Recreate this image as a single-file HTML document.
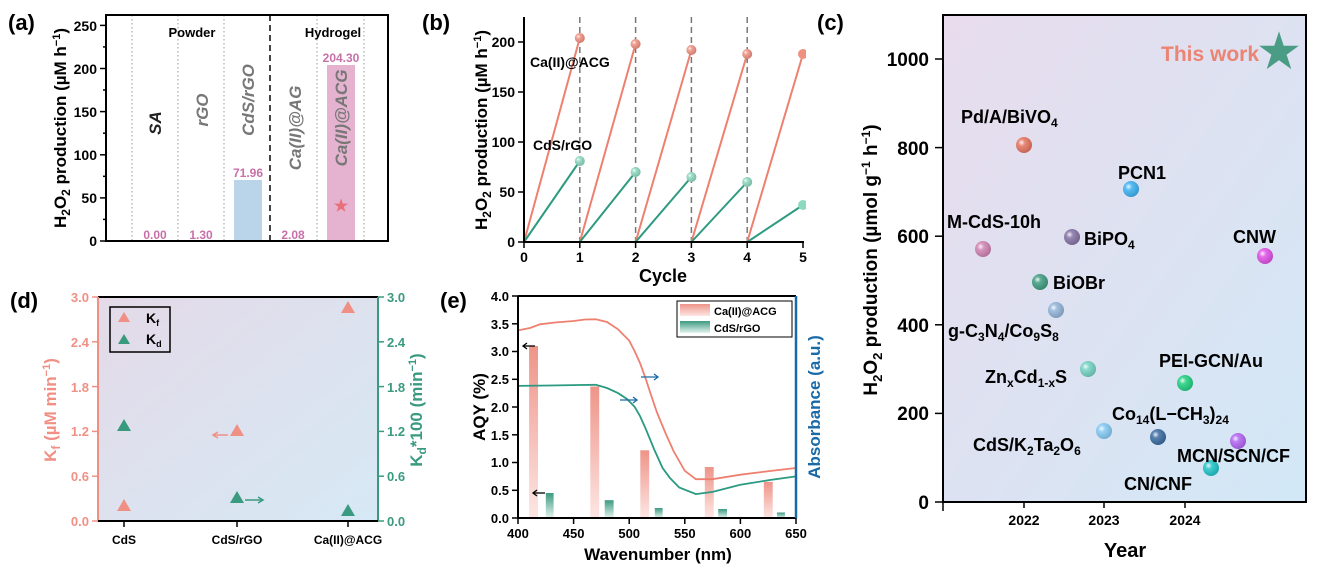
<!DOCTYPE html>
<html><head><meta charset="utf-8"><style>
html,body{margin:0;padding:0;background:#fff;}
svg{display:block;font-family:"Liberation Sans",Arial,sans-serif;font-weight:bold;}
</style></head><body>
<svg width="1320" height="575" viewBox="0 0 1320 575" xmlns="http://www.w3.org/2000/svg">
<defs>
<linearGradient id="bgc" x1="0" y1="0" x2="1" y2="1"><stop offset="0" stop-color="#e8dced"/><stop offset="1" stop-color="#d2e8f6"/></linearGradient>
<linearGradient id="bgd" x1="0" y1="0" x2="1" y2="1"><stop offset="0" stop-color="#e4dae8"/><stop offset="1" stop-color="#d6e9f5"/></linearGradient>
<linearGradient id="rb" x1="0" y1="0" x2="0" y2="1"><stop offset="0" stop-color="#ee9488"/><stop offset="1" stop-color="#fde6e4"/></linearGradient>
<linearGradient id="gb" x1="0" y1="0" x2="0" y2="1"><stop offset="0" stop-color="#3d9a80"/><stop offset="1" stop-color="#e4f4ef"/></linearGradient>
<radialGradient id="sh" cx="0.35" cy="0.35" r="0.7"><stop offset="0" stop-color="#fff" stop-opacity="0.9"/><stop offset="0.3" stop-color="#fff" stop-opacity="0.15"/><stop offset="1" stop-color="#000" stop-opacity="0.15"/></radialGradient>
</defs>

<!-- ===== Panel (a) ===== -->
<text x="8" y="30" font-size="22">(a)</text>
<g stroke="#999" stroke-width="1" stroke-dasharray="1.5,2.5">
<line x1="132" y1="15" x2="132" y2="241"/><line x1="178" y1="15" x2="178" y2="241"/><line x1="224" y1="15" x2="224" y2="241"/>
<line x1="317" y1="15" x2="317" y2="241"/><line x1="364" y1="15" x2="364" y2="241"/></g>
<line x1="270" y1="15" x2="270" y2="241" stroke="#444" stroke-width="2" stroke-dasharray="6,4"/>
<rect x="234" y="180" width="28" height="61" fill="#bad4ea"/>
<rect x="327" y="65" width="28" height="176" fill="#e5b3cf"/>
<rect x="106" y="15" width="282" height="226" fill="none" stroke="#000" stroke-width="2"/>
<g stroke="#000" stroke-width="1.5">
<line x1="100" y1="241" x2="106" y2="241"/><line x1="100" y1="197.9" x2="106" y2="197.9"/><line x1="100" y1="154.8" x2="106" y2="154.8"/><line x1="100" y1="111.6" x2="106" y2="111.6"/><line x1="100" y1="68.5" x2="106" y2="68.5"/><line x1="100" y1="25.4" x2="106" y2="25.4"/>
<line x1="103" y1="219.4" x2="106" y2="219.4"/><line x1="103" y1="176.3" x2="106" y2="176.3"/><line x1="103" y1="133.2" x2="106" y2="133.2"/><line x1="103" y1="90" x2="106" y2="90"/><line x1="103" y1="46.9" x2="106" y2="46.9"/></g>
<g font-size="14" text-anchor="end">
<text x="97" y="246">0</text><text x="97" y="203">50</text><text x="97" y="160">100</text><text x="97" y="117">150</text><text x="97" y="74">200</text><text x="97" y="31">250</text></g>
<text transform="translate(66,128) rotate(-90)" font-size="17" text-anchor="middle">H<tspan font-size="12" dy="4">2</tspan><tspan dy="-4">O</tspan><tspan font-size="12" dy="4">2</tspan><tspan dy="-4"> production (µM h</tspan><tspan font-size="11" dy="-6">−1</tspan><tspan dy="6">)</tspan></text>
<text x="192" y="37" font-size="13" text-anchor="middle">Powder</text>
<text x="333" y="37" font-size="13" text-anchor="middle">Hydrogel</text>
<g font-size="17" font-style="italic" fill="#777" text-anchor="middle">
<text transform="translate(161,123) rotate(-90)" fill="#222">SA</text>
<text transform="translate(208,110) rotate(-90)">rGO</text>
<text transform="translate(254,100) rotate(-90)">CdS/rGO</text>
<text transform="translate(301,128) rotate(-90)">Ca(II)@AG</text>
<text transform="translate(347,118) rotate(-90)">Ca(II)@ACG</text></g>
<g font-size="12" fill="#c870a8" text-anchor="middle">
<text x="155" y="239">0.00</text><text x="201" y="239">1.30</text><text x="248" y="177">71.96</text><text x="293" y="239">2.08</text><text x="341" y="62">204.30</text></g>
<text x="341" y="211" font-size="16" fill="#e8707a" text-anchor="middle">★</text>

<!-- ===== Panel (b) ===== -->
<text x="422" y="30" font-size="22">(b)</text>
<g stroke="#777" stroke-width="1.5" stroke-dasharray="6,4">
<line x1="579.8" y1="17" x2="579.8" y2="242"/><line x1="635.6" y1="17" x2="635.6" y2="242"/><line x1="691.4" y1="17" x2="691.4" y2="242"/><line x1="747.2" y1="17" x2="747.2" y2="242"/></g>
<g stroke="#ee8070" stroke-width="2">
<line x1="524" y1="242" x2="579.8" y2="38"/><line x1="579.8" y1="242" x2="635.6" y2="44"/><line x1="635.6" y1="242" x2="691.4" y2="50"/><line x1="691.4" y1="242" x2="747.2" y2="54"/><line x1="747.2" y1="242" x2="803" y2="54"/></g>
<g stroke="#2e9a80" stroke-width="2">
<line x1="524" y1="242" x2="579.8" y2="161"/><line x1="579.8" y1="242" x2="635.6" y2="172"/><line x1="635.6" y1="242" x2="691.4" y2="177"/><line x1="691.4" y1="242" x2="747.2" y2="182"/><line x1="747.2" y1="242" x2="803" y2="205"/></g>
<g fill="#f09080"><circle cx="579.8" cy="38" r="5"/><circle cx="635.6" cy="44" r="5"/><circle cx="691.4" cy="50" r="5"/><circle cx="747.2" cy="54" r="5"/><circle cx="803" cy="54" r="5"/></g>
<g fill="#8ed8c0"><circle cx="579.8" cy="161" r="5"/><circle cx="635.6" cy="172" r="5"/><circle cx="691.4" cy="177" r="5"/><circle cx="747.2" cy="182" r="5"/><circle cx="803" cy="205" r="5"/></g>
<g fill="url(#sh)"><circle cx="579.8" cy="38" r="5"/><circle cx="635.6" cy="44" r="5"/><circle cx="691.4" cy="50" r="5"/><circle cx="747.2" cy="54" r="5"/><circle cx="579.8" cy="161" r="5"/><circle cx="635.6" cy="172" r="5"/><circle cx="691.4" cy="177" r="5"/><circle cx="747.2" cy="182" r="5"/></g>
<rect x="806" y="0" width="14" height="260" fill="#fff"/>
<g stroke="#000" stroke-width="2"><line x1="524" y1="17" x2="524" y2="242"/><line x1="523" y1="242" x2="804" y2="242"/></g>
<g stroke="#000" stroke-width="1.5">
<line x1="518" y1="242" x2="524" y2="242"/><line x1="518" y1="192" x2="524" y2="192"/><line x1="518" y1="142" x2="524" y2="142"/><line x1="518" y1="92" x2="524" y2="92"/><line x1="518" y1="42" x2="524" y2="42"/>
<line x1="524" y1="242" x2="524" y2="248"/><line x1="579.8" y1="242" x2="579.8" y2="248"/><line x1="635.6" y1="242" x2="635.6" y2="248"/><line x1="691.4" y1="242" x2="691.4" y2="248"/><line x1="747.2" y1="242" x2="747.2" y2="248"/><line x1="803" y1="242" x2="803" y2="248"/></g>
<g font-size="14" text-anchor="end"><text x="515" y="247">0</text><text x="515" y="197">50</text><text x="515" y="147">100</text><text x="515" y="97">150</text><text x="515" y="47">200</text></g>
<g font-size="14" text-anchor="middle"><text x="524" y="262">0</text><text x="579.8" y="262">1</text><text x="635.6" y="262">2</text><text x="691.4" y="262">3</text><text x="747.2" y="262">4</text><text x="803" y="262">5</text></g>
<text x="663" y="282" font-size="18" text-anchor="middle">Cycle</text>
<text transform="translate(487,130) rotate(-90)" font-size="17" text-anchor="middle">H<tspan font-size="12" dy="4">2</tspan><tspan dy="-4">O</tspan><tspan font-size="12" dy="4">2</tspan><tspan dy="-4"> production (µM h</tspan><tspan font-size="11" dy="-6">−1</tspan><tspan dy="6">)</tspan></text>
<text x="530" y="67" font-size="14">Ca(II)@ACG</text>
<text x="533" y="150" font-size="14">CdS/rGO</text>

<!-- ===== Panel (c) ===== -->
<text x="817" y="30" font-size="22">(c)</text>
<rect x="943" y="15" width="363" height="487" fill="url(#bgc)" stroke="#000" stroke-width="2"/>
<g stroke="#000" stroke-width="1.5">
<line x1="935" y1="502" x2="943" y2="502"/><line x1="935" y1="413.4" x2="943" y2="413.4"/><line x1="935" y1="324.8" x2="943" y2="324.8"/><line x1="935" y1="236.2" x2="943" y2="236.2"/><line x1="935" y1="147.6" x2="943" y2="147.6"/><line x1="935" y1="59" x2="943" y2="59"/>
<line x1="943" y1="502" x2="943" y2="511"/><line x1="1024" y1="502" x2="1024" y2="508"/><line x1="1104" y1="502" x2="1104" y2="508"/><line x1="1185" y1="502" x2="1185" y2="508"/></g>
<g font-size="19" text-anchor="end"><text x="929" y="509">0</text><text x="929" y="420">200</text><text x="929" y="332">400</text><text x="929" y="243">600</text><text x="929" y="155">800</text><text x="929" y="66">1000</text></g>
<g font-size="14" text-anchor="middle"><text x="1024" y="525">2022</text><text x="1104" y="525">2023</text><text x="1185" y="525">2024</text></g>
<text x="1125" y="557" font-size="20" text-anchor="middle">Year</text>
<text transform="translate(877,260) rotate(-90)" font-size="19" text-anchor="middle">H<tspan font-size="13" dy="5">2</tspan><tspan dy="-5">O</tspan><tspan font-size="13" dy="5">2</tspan><tspan dy="-5"> production (µmol g</tspan><tspan font-size="12" dy="-7">−1</tspan><tspan dy="7"> h</tspan><tspan font-size="12" dy="-7">−1</tspan><tspan dy="7">)</tspan></text>
<g>
<circle cx="1024" cy="145" r="8" fill="#e57560"/><circle cx="1131" cy="189" r="8" fill="#3cb2f2"/><circle cx="983" cy="249" r="8" fill="#d083b2"/><circle cx="1072" cy="237" r="8" fill="#8573a5"/><circle cx="1265" cy="256" r="8" fill="#e050e6"/><circle cx="1040" cy="282" r="8" fill="#3f9c80"/><circle cx="1056" cy="310" r="8" fill="#92b4d8"/><circle cx="1088" cy="369" r="8" fill="#74d2c4"/><circle cx="1185" cy="383" r="8" fill="#20d080"/><circle cx="1104" cy="431" r="8" fill="#84caf4"/><circle cx="1158" cy="437" r="8" fill="#3b6ba2"/><circle cx="1238" cy="441" r="8" fill="#b265f2"/><circle cx="1211" cy="468" r="8" fill="#20c4c8"/>
</g>
<g fill="url(#sh)">
<circle cx="1024" cy="145" r="8"/><circle cx="1131" cy="189" r="8"/><circle cx="983" cy="249" r="8"/><circle cx="1072" cy="237" r="8"/><circle cx="1265" cy="256" r="8"/><circle cx="1040" cy="282" r="8"/><circle cx="1056" cy="310" r="8"/><circle cx="1088" cy="369" r="8"/><circle cx="1185" cy="383" r="8"/><circle cx="1104" cy="431" r="8"/><circle cx="1158" cy="437" r="8"/><circle cx="1238" cy="441" r="8"/><circle cx="1211" cy="468" r="8"/></g>
<g font-size="18">
<text x="961" y="123">Pd/A/BiVO<tspan font-size="12" dy="4">4</tspan></text>
<text x="1118" y="179">PCN1</text>
<text x="947" y="228">M-CdS-10h</text>
<text x="1084" y="245">BiPO<tspan font-size="12" dy="4">4</tspan></text>
<text x="1233" y="243">CNW</text>
<text x="1053" y="289">BiOBr</text>
<text x="948" y="337">g-C<tspan font-size="12" dy="4">3</tspan><tspan dy="-4">N</tspan><tspan font-size="12" dy="4">4</tspan><tspan dy="-4">/Co</tspan><tspan font-size="12" dy="4">9</tspan><tspan dy="-4">S</tspan><tspan font-size="12" dy="4">8</tspan></text>
<text x="985" y="383">Zn<tspan font-size="12" dy="4">x</tspan><tspan dy="-4">Cd</tspan><tspan font-size="12" dy="4">1-x</tspan><tspan dy="-4">S</tspan></text>
<text x="1159" y="367">PEI-GCN/Au</text>
<text x="1112" y="420">Co<tspan font-size="12" dy="4">14</tspan><tspan dy="-4">(L−CH</tspan><tspan font-size="12" dy="4">3</tspan><tspan dy="-4">)</tspan><tspan font-size="12" dy="4">24</tspan></text>
<text x="973" y="451">CdS/K<tspan font-size="12" dy="4">2</tspan><tspan dy="-4">Ta</tspan><tspan font-size="12" dy="4">2</tspan><tspan dy="-4">O</tspan><tspan font-size="12" dy="4">6</tspan></text>
<text x="1177" y="462">MCN/SCN/CF</text>
<text x="1124" y="490">CN/CNF</text>
</g>
<text x="1161" y="61" font-size="21" fill="#ec8473">This work</text>
<text x="1279" y="67" font-size="46" fill="#4a9c84" text-anchor="middle">★</text>

<!-- ===== Panel (d) ===== -->
<text x="10" y="308" font-size="22">(d)</text>
<rect x="98" y="297" width="280" height="224" fill="url(#bgd)"/>
<line x1="98" y1="297" x2="378" y2="297" stroke="#000" stroke-width="2"/>
<line x1="98" y1="297" x2="98" y2="521" stroke="#f09085" stroke-width="2"/>
<line x1="378" y1="297" x2="378" y2="521" stroke="#3a9a80" stroke-width="2"/>
<line x1="98" y1="521" x2="378" y2="521" stroke="#000" stroke-width="2"/>
<g stroke="#f09085" stroke-width="1.5">
<line x1="92" y1="521" x2="98" y2="521"/><line x1="92" y1="476.2" x2="98" y2="476.2"/><line x1="92" y1="431.4" x2="98" y2="431.4"/><line x1="92" y1="386.6" x2="98" y2="386.6"/><line x1="92" y1="341.8" x2="98" y2="341.8"/><line x1="92" y1="297" x2="98" y2="297"/></g>
<g stroke="#3a9a80" stroke-width="1.5">
<line x1="378" y1="521" x2="384" y2="521"/><line x1="378" y1="476.2" x2="384" y2="476.2"/><line x1="378" y1="431.4" x2="384" y2="431.4"/><line x1="378" y1="386.6" x2="384" y2="386.6"/><line x1="378" y1="341.8" x2="384" y2="341.8"/><line x1="378" y1="297" x2="384" y2="297"/></g>
<g stroke="#000" stroke-width="1.5"><line x1="124" y1="521" x2="124" y2="527"/><line x1="237" y1="521" x2="237" y2="527"/><line x1="348" y1="521" x2="348" y2="527"/></g>
<g font-size="13" fill="#f09085" text-anchor="end"><text x="89" y="526">0.0</text><text x="89" y="481">0.6</text><text x="89" y="436">1.2</text><text x="89" y="392">1.8</text><text x="89" y="347">2.4</text><text x="89" y="302">3.0</text></g>
<g font-size="13" fill="#3a9a80"><text x="387" y="526">0.0</text><text x="387" y="481">0.6</text><text x="387" y="436">1.2</text><text x="387" y="392">1.8</text><text x="387" y="347">2.4</text><text x="387" y="302">3.0</text></g>
<g font-size="12" text-anchor="middle"><text x="124" y="544">CdS</text><text x="237" y="544">CdS/rGO</text><text x="348" y="544">Ca(II)@ACG</text></g>
<text transform="translate(56,410) rotate(-90)" font-size="17" fill="#f09085" text-anchor="middle">K<tspan font-size="12" dy="4">f</tspan><tspan dy="-4"> (µM min</tspan><tspan font-size="11" dy="-6">−1</tspan><tspan dy="6">)</tspan></text>
<text transform="translate(422,410) rotate(-90)" font-size="17" fill="#3a9a80" text-anchor="middle">K<tspan font-size="12" dy="4">d</tspan><tspan dy="-4">*100 (min</tspan><tspan font-size="11" dy="-6">−1</tspan><tspan dy="6">)</tspan></text>
<g fill="#f09085"><path d="M124,499 l-7,12 h14z"/><path d="M237,424 l-7,12 h14z"/><path d="M348,301 l-7,12 h14z"/></g>
<g fill="#3a9a80"><path d="M124,419 l-7,12 h14z"/><path d="M237,491 l-7,12 h14z"/><path d="M348,504 l-7,12 h14z"/></g>
<g stroke="#f09085" stroke-width="1.5" fill="none"><line x1="228" y1="435" x2="214" y2="435"/><path d="M218,432 l-5,3 l5,3"/></g>
<g stroke="#3a9a80" stroke-width="1.5" fill="none"><line x1="245" y1="500" x2="262" y2="500"/><path d="M258,497 l5,3 l-5,3"/></g>
<rect x="110" y="307" width="60" height="45" fill="none" stroke="#000" stroke-width="1.5"/>
<path d="M124,312 l-6,10 h12z" fill="#f09085"/><path d="M124,334 l-6,10 h12z" fill="#3a9a80"/>
<text x="146" y="323" font-size="14">K<tspan font-size="9" dy="3">f</tspan></text>
<text x="146" y="344" font-size="14">K<tspan font-size="9" dy="3">d</tspan></text>

<!-- ===== Panel (e) ===== -->
<text x="440" y="308" font-size="22">(e)</text>
<g fill="url(#rb)">
<rect x="529.1" y="346" width="8.9" height="172"/><rect x="590.3" y="386.5" width="8.9" height="131.5"/><rect x="640.3" y="450.3" width="8.9" height="67.7"/><rect x="704.8" y="467" width="8.9" height="51"/><rect x="763.8" y="481.9" width="8.9" height="36.1"/></g>
<g fill="url(#gb)">
<rect x="545.8" y="493" width="7.8" height="25"/><rect x="604.7" y="500.2" width="8.9" height="17.8"/><rect x="654.8" y="508" width="7.8" height="10"/><rect x="718.2" y="509" width="8.8" height="9"/><rect x="777" y="512.5" width="7.9" height="5.5"/></g>
<polyline fill="none" stroke="#ee8070" stroke-width="1.8" points="518,330.4 530,328 540,324.3 555,322.5 573.6,321 585,319.5 595.8,319.3 607,322 618,329.3 629.2,340.6 634.8,351.5 640,363 645.9,379.3 651,395 657,412.5 665,432 673.7,451.4 684.8,470.8 695.9,479.2 712.6,479.2 740.4,474.7 770,471 796,468"/>
<polyline fill="none" stroke="#2a9a80" stroke-width="1.8" points="518,385.9 550,385.5 580,385 595.8,384.8 607,388 618,393.1 627,399 634.8,407 640,416 645.9,429.2 654,449 662.6,468 670,478 679.2,487.5 695.9,494.1 712.6,491.9 740.4,484.7 770,480 796,476.4"/>
<g stroke="#000" stroke-width="1.3" fill="none"><line x1="535" y1="346" x2="523" y2="346"/><path d="M527,343 l-4,3 l4,3"/><line x1="545" y1="493" x2="533" y2="493"/><path d="M537,490 l-4,3 l4,3"/></g>
<g stroke="#1a6aa8" stroke-width="1.3" fill="none"><line x1="641" y1="377" x2="658" y2="377"/><path d="M654,374 l4,3 l-4,3"/><line x1="620" y1="400" x2="637" y2="400"/><path d="M633,397 l4,3 l-4,3"/></g>
<line x1="518" y1="296" x2="796" y2="296" stroke="#000" stroke-width="2"/>
<line x1="518" y1="296" x2="518" y2="518" stroke="#000" stroke-width="2"/>
<line x1="518" y1="518" x2="796" y2="518" stroke="#000" stroke-width="2"/>
<line x1="796" y1="296" x2="796" y2="518" stroke="#1a6aa8" stroke-width="2.5"/>
<g stroke="#000" stroke-width="1.5">
<line x1="512" y1="518" x2="518" y2="518"/><line x1="512" y1="490.3" x2="518" y2="490.3"/><line x1="512" y1="462.5" x2="518" y2="462.5"/><line x1="512" y1="434.8" x2="518" y2="434.8"/><line x1="512" y1="407" x2="518" y2="407"/><line x1="512" y1="379.3" x2="518" y2="379.3"/><line x1="512" y1="351.5" x2="518" y2="351.5"/><line x1="512" y1="323.8" x2="518" y2="323.8"/><line x1="512" y1="296" x2="518" y2="296"/>
<line x1="518" y1="518" x2="518" y2="524"/><line x1="573.6" y1="518" x2="573.6" y2="524"/><line x1="629.2" y1="518" x2="629.2" y2="524"/><line x1="684.8" y1="518" x2="684.8" y2="524"/><line x1="740.4" y1="518" x2="740.4" y2="524"/><line x1="796" y1="518" x2="796" y2="524"/></g>
<g font-size="13" text-anchor="end"><text x="509" y="523">0.0</text><text x="509" y="495">0.5</text><text x="509" y="467">1.0</text><text x="509" y="440">1.5</text><text x="509" y="412">2.0</text><text x="509" y="384">2.5</text><text x="509" y="356">3.0</text><text x="509" y="329">3.5</text><text x="509" y="301">4.0</text></g>
<g font-size="13" text-anchor="middle"><text x="518" y="538">400</text><text x="573.6" y="538">450</text><text x="629.2" y="538">500</text><text x="684.8" y="538">550</text><text x="740.4" y="538">600</text><text x="796" y="538">650</text></g>
<text x="658" y="560" font-size="17" text-anchor="middle">Wavenumber (nm)</text>
<text transform="translate(485,407) rotate(-90)" font-size="17" text-anchor="middle">AQY (%)</text>
<text transform="translate(820,407) rotate(-90)" font-size="17" fill="#1a6aa8" text-anchor="middle">Absorbance (a.u.)</text>
<rect x="677" y="301" width="115" height="36" fill="#fff" stroke="#000" stroke-width="1"/>
<rect x="680" y="304" width="30" height="12" fill="url(#rb)"/>
<rect x="680" y="321" width="30" height="12" fill="url(#gb)"/>
<text x="714" y="315" font-size="11">Ca(II)@ACG</text>
<text x="714" y="332" font-size="11">CdS/rGO</text>
</svg>
</body></html>
